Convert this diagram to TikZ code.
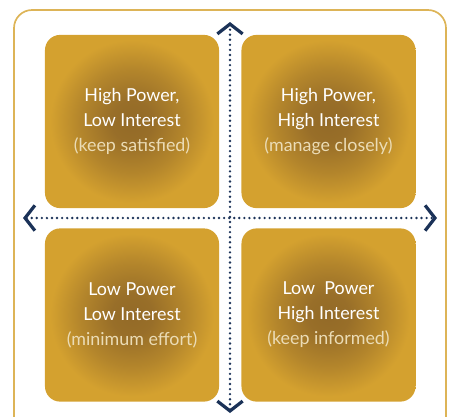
\documentclass[tikz,border=0pt]{standalone}
\usepackage{fontspec}
\setmainfont{Lato}
\usepackage{xcolor}
\usepackage{tikz}
\usetikzlibrary{arrows.meta}
\usetikzlibrary{positioning}

\definecolor{oro}{HTML}{D4A12F}
\definecolor{orooscuro}{HTML}{936A28}
\definecolor{marco}{HTML}{DDB457}
\definecolor{marino}{HTML}{1B3258}
\definecolor{suave}{HTML}{EBDCB6}

% degradado de los cuadrantes
\pgfdeclareradialshading{cuadrante}{\pgfpoint{0bp}{0bp}}{%
    color(0bp)=(orooscuro); color(6bp)=(orooscuro!92!oro);
    color(15bp)=(orooscuro!50!oro); color(23.5bp)=(oro); color(50bp)=(oro)}

\begin{document}
\begin{tikzpicture}[x=0.025cm, y=-0.025cm,
    cuadro/.style={rounded corners=0.38cm, shading=cuadrante,
        minimum width=4.35cm, minimum height=4.33cm, align=center, text=white,
        font=\fontsize{12.7}{17.8}\selectfont},
    eje/.style={marino, line width=1.9pt, line cap=round, dash pattern=on 0pt off 3.6pt,
        {Straight Barb[length=7pt, width=18pt, line width=2.3pt, line cap=butt]}-{Straight Barb[length=7pt, width=18pt, line width=2.3pt, line cap=butt]}}]

        \useasboundingbox (0,0) rectangle (449,416);

        % Marco
        \draw[marco, line width=1.2pt, rounded corners=0.45cm] (14,10) rectangle (446,440);

        % Cuadrantes
        \node[cuadro] (hl) at (132,121.5) {High Power,\\Low Interest\\\color{suave}(keep satisfied)};
        \node[cuadro] (hh) at (328.5,121.5) {High Power,\\High Interest\\\color{suave}(manage closely)};
        \node[cuadro] (ll) at (132,315) {Low Power\\Low Interest\\\color{suave}(minimum effort)};
        \node[cuadro] (lh) at (328.5,315) {Low\ \ Power\\High Interest\\\color{suave}(keep informed)};

        % Ejes
        \coordinate (arriba) at (230,22);
        \coordinate (abajo) at (230,413);
        \coordinate (izq) at (23,218);
        \coordinate (der) at (437,218);
        \draw[eje] (abajo) -- (arriba);
        \draw[eje] (izq) -- (der);

    \end{tikzpicture}
\end{document}
